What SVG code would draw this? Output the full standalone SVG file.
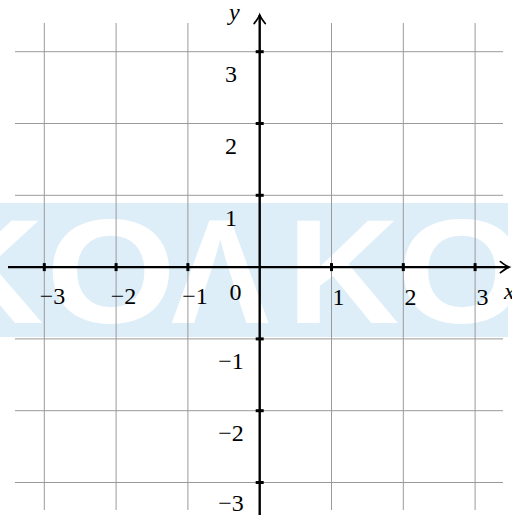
<svg xmlns="http://www.w3.org/2000/svg" width="512" height="515" viewBox="0 0 512 515">
<defs>
<style>
.wm{font-family:"Liberation Sans",Arial,sans-serif;font-weight:bold;font-size:148px;fill:#ffffff;text-anchor:middle}
.grid line{stroke:#9a9a9a;stroke-width:1}
.axis{stroke:#000;stroke-width:2.4;fill:none}
.tick{fill:#000}
.lbl{font-family:'Liberation Serif','DejaVu Serif',serif;font-size:24px;fill:#000;text-anchor:middle}
.var{font-family:'Liberation Serif','DejaVu Serif',serif;font-size:24px;font-style:italic;fill:#000}
</style>
<marker id="arr" markerUnits="userSpaceOnUse" markerWidth="20" markerHeight="20" refX="10" refY="10" orient="auto" viewBox="0 0 20 20">
<path d="M1.5,4.5 Q7,8.8 10,10 Q7,11.2 1.5,15.5" fill="none" stroke="#000" stroke-width="1.8" stroke-linecap="round"/>
</marker>
</defs>
<rect width="512" height="515" fill="#ffffff"/>
<g id="watermark">
<rect x="0" y="203" width="508" height="134" fill="#ddeef9"/>
<text class="wm" x="-14" y="323" transform="translate(-14 0) scale(1.08 1) translate(14 0)">K</text>
<text class="wm" x="111" y="323" transform="translate(111 0) scale(1.13 1) translate(-111 0)">O</text>
<text class="wm" x="220" y="323">Λ</text>
<text class="wm" x="343" y="323" transform="translate(343 0) scale(1.05 1) translate(-343 0)">K</text>
<text class="wm" x="462" y="323" transform="translate(462 0) scale(1.13 1) translate(-462 0)">O</text>
</g>
<g id="grid" class="grid">
<line x1="44.3" y1="23" x2="44.3" y2="510"/>
<line x1="116.1" y1="23" x2="116.1" y2="510"/>
<line x1="187.9" y1="23" x2="187.9" y2="510"/>
<line x1="331.5" y1="23" x2="331.5" y2="510"/>
<line x1="403.3" y1="23" x2="403.3" y2="510"/>
<line x1="475.1" y1="23" x2="475.1" y2="510"/>
<line x1="15" y1="51.7" x2="503" y2="51.7"/>
<line x1="15" y1="123.5" x2="503" y2="123.5"/>
<line x1="15" y1="195.3" x2="503" y2="195.3"/>
<line x1="15" y1="338.9" x2="503" y2="338.9"/>
<line x1="15" y1="410.7" x2="503" y2="410.7"/>
<line x1="15" y1="482.5" x2="503" y2="482.5"/>
</g>
<g id="connectors">
<line id="x-axis" class="axis" x1="8" y1="267.1" x2="509" y2="267.1" marker-end="url(#arr)"/>
<line id="y-axis" class="axis" x1="259.7" y1="515" x2="259.7" y2="15" marker-end="url(#arr)"/>
</g>
<g id="ticks" class="tick">
<rect x="42.8" y="263.1" width="3" height="8"/>
<rect x="114.6" y="263.1" width="3" height="8"/>
<rect x="186.4" y="263.1" width="3" height="8"/>
<rect x="330" y="263.1" width="3" height="8"/>
<rect x="401.8" y="263.1" width="3" height="8"/>
<rect x="473.6" y="263.1" width="3" height="8"/>
<rect x="255.7" y="50.2" width="8" height="3"/>
<rect x="255.7" y="122" width="8" height="3"/>
<rect x="255.7" y="193.8" width="8" height="3"/>
<rect x="255.7" y="337.4" width="8" height="3"/>
<rect x="255.7" y="409.2" width="8" height="3"/>
<rect x="255.7" y="481" width="8" height="3"/>
</g>
<g id="labels">
<text class="lbl" x="52.5" y="304">−3</text>
<text class="lbl" x="123.5" y="304">−2</text>
<text class="lbl" x="195" y="304">−1</text>
<text class="lbl" x="235.5" y="300">0</text>
<text class="lbl" x="338.5" y="305">1</text>
<text class="lbl" x="410.5" y="305">2</text>
<text class="lbl" x="482.5" y="305">3</text>
<text class="lbl" x="231" y="82">3</text>
<text class="lbl" x="231" y="154">2</text>
<text class="lbl" x="231" y="226">1</text>
<text class="lbl" x="231" y="369">−1</text>
<text class="lbl" x="231" y="441">−2</text>
<text class="lbl" x="231" y="511">−3</text>
<text class="var" x="504" y="299">x</text>
<text class="var" x="229" y="20">y</text>
</g>
</svg>
